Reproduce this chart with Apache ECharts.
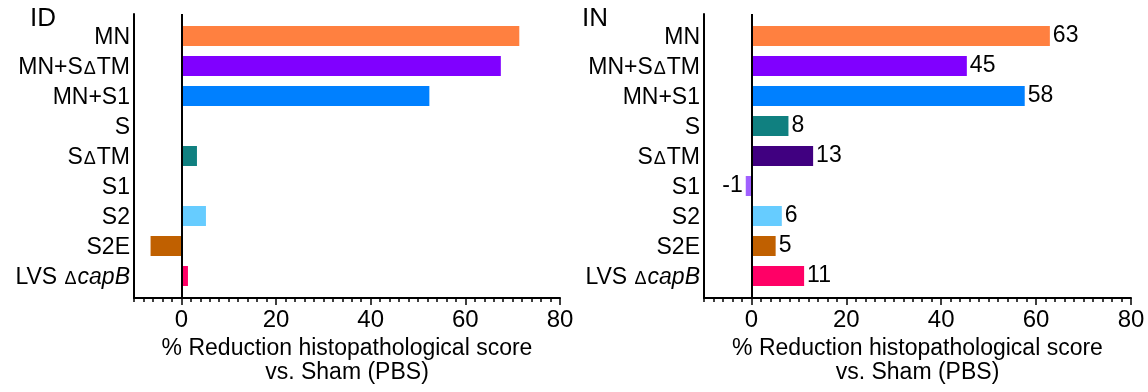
<!DOCTYPE html>
<html>
<head>
<meta charset="utf-8">
<script src="https://cdn.jsdelivr.net/npm/echarts@6/dist/echarts.min.js"></script>
<style>html,body{margin:0;padding:0;background:#fff}#c{width:1148px;height:392px}</style>
</head>
<body>
<div id="c"></div>
<script>
const categories = ['MN', 'MN+SΔTM', 'MN+S1', 'S', 'SΔTM', 'S1', 'S2', 'S2E', 'LVS ΔcapB'];
const idValues = [71.4, 67.5, 52.4, null, 3.3, null, 5.2, -6.5, 1.4];
const inValues = [62.9, 45.4, 57.6, 7.8, 13.0, -1.2, 6.4, 5.1, 11.1];
const idColors = ['#FF8040', '#8000FF', '#0080FF', '#108080', '#108080', '#A060FF', '#66CCFF', '#C06000', '#FF0066'];
const inColors = ['#FF8040', '#8000FF', '#0080FF', '#108080', '#400080', '#A060FF', '#66CCFF', '#C06000', '#FF0066'];
const xTickLabels = [0, 20, 40, 60, 80];
const panelTitles = ['ID', 'IN'];
const axisTitle = '% Reduction histopathological score\nvs. Sham (PBS)';

const FONT = '"Liberation Sans", Arial, sans-serif';
const chart = echarts.init(document.getElementById('c'));

function catFormatter(v) {
  return v.replace('Δ', '{d|Δ}').replace('capB', '{i|capB}').replace(/^([^{]+)/, '{n|$1}')
          .replace(/\}([^{}]+)$/, '}{n|$1}');
}
const rich = {
  n: {fontSize: 23, fontFamily: FONT, color: '#000', verticalAlign: 'bottom', lineHeight: 26},
  d: {fontSize: 18, fontFamily: FONT, color: '#000', verticalAlign: 'bottom', lineHeight: 26, padding: [0, 1, 1, 1]},
  i: {fontSize: 23, fontFamily: FONT, fontStyle: 'italic', color: '#000', verticalAlign: 'bottom', lineHeight: 26}
};

const grids = [], xAxes = [], yAxes = [], series = [], titles = [];
const panels = [
  {left: 134, right: 588, values: idValues, colors: idColors, labels: false, tx: 30},
  {left: 704, right: 17, values: inValues, colors: inColors, labels: true, tx: 582}
];
panels.forEach((p, k) => {
  const gFrame = grids.length;
  grids.push({left: p.left, right: p.right, top: 14, bottom: 94});
  grids.push({left: p.left, right: p.right, top: 21, height: 270});
  const gBar = gFrame + 1;
  const xf = xAxes.length;
  xAxes.push({
    type: 'value', gridIndex: gFrame, min: -10, max: 80, interval: 2, position: 'bottom',
    axisLine: {show: true, onZero: false, lineStyle: {color: '#000', width: 2}},
    axisTick: {show: true, length: 4, lineStyle: {color: '#000', width: 1.5}},
    axisLabel: {customValues: xTickLabels, fontSize: 24, fontFamily: FONT, color: '#000', margin: 10},
    splitLine: {show: false},
    name: axisTitle, nameLocation: 'middle', nameGap: 35,
    nameTextStyle: {fontSize: 23, fontFamily: FONT, color: '#000', lineHeight: 24}
  });
  xAxes.push({
    type: 'value', gridIndex: gFrame, min: -10, max: 80, position: 'bottom',
    axisLine: {show: false},
    axisTick: {show: true, customValues: xTickLabels, length: 7, lineStyle: {color: '#000', width: 1.5}},
    axisLabel: {show: false}, splitLine: {show: false}
  });
  const xb = xAxes.length;
  xAxes.push({type: 'value', gridIndex: gBar, min: -10, max: 80, show: false, splitLine: {show: false}});
  const yf = yAxes.length;
  yAxes.push({
    type: 'value', gridIndex: gFrame, min: 0, max: 1, position: 'left',
    axisLine: {show: true, onZero: false, lineStyle: {color: '#000', width: 2}},
    axisTick: {show: false}, axisLabel: {show: false}, splitLine: {show: false}
  });
  const yb = yAxes.length;
  yAxes.push({
    type: 'category', gridIndex: gBar, data: categories, inverse: true, position: 'left',
    axisLine: {show: false, onZero: false}, axisTick: {show: false},
    axisLabel: {margin: 4, formatter: catFormatter, rich: rich}
  });
  series.push({
    type: 'line', xAxisIndex: xf, yAxisIndex: yf, data: [], silent: true,
    markLine: {silent: true, symbol: ['none', 'none'], label: {show: false},
      lineStyle: {color: '#000', width: 2, type: 'solid'}, data: [{xAxis: 0}]}
  });
  series.push({
    type: 'bar', xAxisIndex: xb, yAxisIndex: yb, barWidth: 20,
    data: p.values.map((v, i) => ({
      value: v,
      itemStyle: {color: p.colors[i]},
      label: {position: (v !== null && v < 0) ? 'left' : 'right'}
    })),
    label: {show: p.labels, distance: 3, fontSize: 23, fontFamily: FONT, color: '#000',
      formatter: (o) => String(Math.round(o.value))}
  });
  titles.push({text: panelTitles[k], left: p.tx, top: 6, padding: 0,
    textStyle: {fontSize: 26, fontWeight: 'normal', fontFamily: FONT, color: '#000'}});
});

chart.setOption({
  animation: false,
  title: titles,
  grid: grids,
  xAxis: xAxes,
  yAxis: yAxes,
  series: series
});
</script>
</body>
</html>
